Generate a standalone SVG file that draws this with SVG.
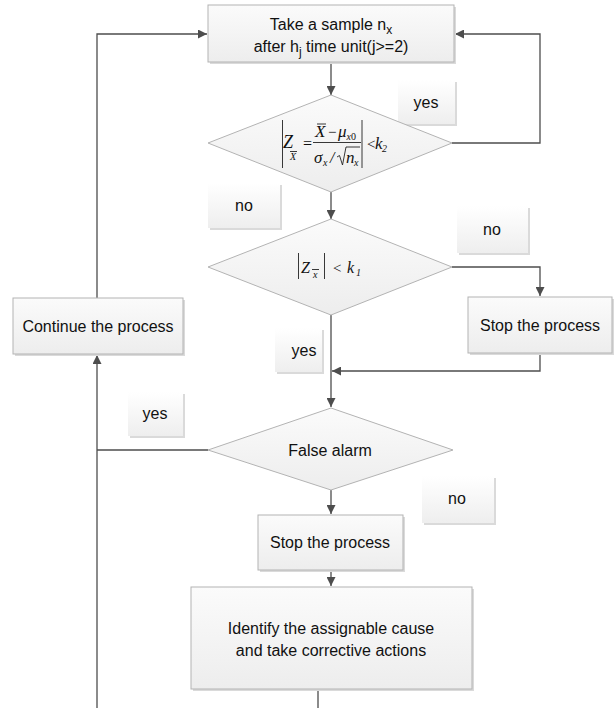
<svg xmlns="http://www.w3.org/2000/svg" width="615" height="708" viewBox="0 0 615 708">
<style>
.node{fill:url(#ng);stroke:#b3b3b3;stroke-width:1}
.shadow{fill:#dadada}
.lbl{fill:url(#lg)}
.t{font-family:"Liberation Sans",Arial,sans-serif;font-size:16px;fill:#111;text-anchor:middle}
.m{font-family:"Liberation Serif","Times New Roman",serif;font-style:italic;fill:#111}
.c{fill:none;stroke:#4d4d4d;stroke-width:1.3}
.mb{stroke:#222;stroke-width:0.9;fill:none}
</style>
<defs>
<linearGradient id="ng" x1="0" y1="0" x2="0" y2="1">
<stop offset="0" stop-color="#fbfbfb"/><stop offset="1" stop-color="#ededed"/>
</linearGradient>
<linearGradient id="lg" x1="0" y1="0" x2="0" y2="1">
<stop offset="0" stop-color="#ffffff"/><stop offset="1" stop-color="#eeeeee"/>
</linearGradient>
<marker id="ar" viewBox="0 0 10 10" refX="10" refY="5" markerWidth="9" markerHeight="9" markerUnits="userSpaceOnUse" orient="auto">
<path d="M0,0 L10,5 L0,10 z" fill="#4d4d4d"/>
</marker>
</defs>
<rect width="615" height="708" fill="#fff"/>

<g id="connectors">
<path class="c" d="M331,62 V95" marker-end="url(#ar)"/>
<path class="c" d="M452,143 H540 V34 H455" marker-end="url(#ar)"/>
<path class="c" d="M331,192 V219" marker-end="url(#ar)"/>
<path class="c" d="M452,267 H540 V296" marker-end="url(#ar)"/>
<path class="c" d="M540,353 V371 H332" marker-end="url(#ar)"/>
<path class="c" d="M331,315 V407" marker-end="url(#ar)"/>
<path class="c" d="M208,450 H97"/>
<path class="c" d="M97,708 V355" marker-end="url(#ar)"/>
<path class="c" d="M97,298 V34 H207" marker-end="url(#ar)"/>
<path class="c" d="M331,490 V514" marker-end="url(#ar)"/>
<path class="c" d="M331,570 V586" marker-end="url(#ar)"/>
<path class="c" d="M318,689 V708"/>
</g>

<g id="label-yes-1"><rect class="shadow" x="400" y="82" width="57" height="44"/><rect class="lbl" x="398" y="80" width="57" height="44"/><text class="t" x="426" y="108">yes</text></g>
<g id="label-no-1"><rect class="shadow" x="210" y="185" width="72" height="45"/><rect class="lbl" x="208" y="183" width="72" height="45"/><text class="t" x="244" y="211">no</text></g>
<g id="label-no-2"><rect class="shadow" x="459" y="208" width="71" height="47"/><rect class="lbl" x="457" y="206" width="71" height="47"/><text class="t" x="492" y="235">no</text></g>
<g id="label-yes-2"><rect class="shadow" x="277" y="330" width="47" height="44"/><rect class="lbl" x="275" y="328" width="47" height="44"/><text class="t" x="304" y="356">yes</text></g>
<g id="label-yes-3"><rect class="shadow" x="130" y="394" width="55" height="44"/><rect class="lbl" x="128" y="392" width="55" height="44"/><text class="t" x="155" y="419">yes</text></g>
<g id="label-no-3"><rect class="shadow" x="424" y="478" width="72" height="47"/><rect class="lbl" x="422" y="476" width="72" height="47"/><text class="t" x="457" y="504">no</text></g>

<g id="take-sample">
<rect class="shadow" x="210" y="7" width="246" height="57"/>
<rect class="node" x="208" y="5" width="246" height="57"/>
<text class="t" x="331" y="30">Take a sample n<tspan font-size="12" dy="4">x</tspan></text>
<text class="t" x="331" y="52">after h<tspan font-size="12" dy="4">j</tspan><tspan dy="-4"> time unit(j&gt;=2)</tspan></text>
</g>

<g id="decision-1">
<polygon class="node" points="331,95 452,143 331,192 208,143"/>
<line class="mb" x1="282.5" y1="120" x2="282.5" y2="168"/>
<text class="m" x="283" y="148" font-size="18">Z</text>
<text class="m" x="290" y="160" font-size="10">X</text>
<line class="mb" x1="290" y1="151.5" x2="297" y2="151.5" stroke-width="0.7"/>
<text class="m" x="302" y="149" font-size="16" font-style="normal">=</text>
<text class="m" x="315" y="137" font-size="17">X</text>
<line class="mb" x1="317" y1="124" x2="326" y2="124" stroke-width="0.8"/>
<text class="m" x="327" y="137" font-size="15" font-style="normal">−</text>
<text class="m" x="338" y="137" font-size="17">μ</text>
<text class="m" x="346.5" y="140" font-size="10">x<tspan font-style="normal">0</tspan></text>
<line class="mb" x1="313" y1="142.5" x2="361" y2="142.5"/>
<text class="m" x="314" y="163" font-size="17">σ</text>
<text class="m" x="323" y="166" font-size="10">x</text>
<text class="m" x="330" y="163" font-size="16" font-style="normal">/</text>
<path class="mb" d="M337,157 L339.5,155.5 L342.5,165 L346,147 H360"/>
<text class="m" x="346" y="163" font-size="17">n</text>
<text class="m" x="354" y="166" font-size="10">x</text>
<line class="mb" x1="362" y1="120" x2="362" y2="168"/>
<text class="m" x="366" y="149" font-size="15" font-style="normal">&lt;</text>
<text class="m" x="375" y="149" font-size="17">k</text>
<text class="m" x="382" y="152" font-size="10" font-style="normal">2</text>
</g>

<g id="decision-2">
<polygon class="node" points="331,219 452,267 331,315 208,267"/>
<line class="mb" x1="298.5" y1="253" x2="298.5" y2="279"/>
<text class="m" x="301" y="273" font-size="16">Z</text>
<text class="m" x="313" y="278" font-size="10">x</text>
<line class="mb" x1="312" y1="269.5" x2="319" y2="269.5" stroke-width="0.7"/>
<line class="mb" x1="324.5" y1="253" x2="324.5" y2="279"/>
<text class="m" x="332" y="273" font-size="15" font-style="normal">&lt;</text>
<text class="m" x="347" y="273" font-size="16">k</text>
<text class="m" x="356" y="276" font-size="10" font-style="normal">1</text>
</g>

<g id="stop-1">
<rect class="shadow" x="470" y="299" width="144" height="56"/>
<rect class="node" x="468" y="297" width="144" height="56"/>
<text class="t" x="540" y="331">Stop the process</text>
</g>

<g id="continue">
<rect class="shadow" x="15" y="300" width="170" height="56"/>
<rect class="node" x="13" y="298" width="170" height="56"/>
<text class="t" x="98" y="332">Continue the process</text>
</g>

<g id="false-alarm">
<polygon class="node" points="331,408 453,450 331,490 208,450"/>
<text class="t" x="330" y="456">False alarm</text>
</g>

<g id="stop-2">
<rect class="shadow" x="260" y="517" width="145" height="55"/>
<rect class="node" x="258" y="515" width="145" height="55"/>
<text class="t" x="330" y="548">Stop the process</text>
</g>

<g id="identify">
<rect class="shadow" x="193" y="589" width="281" height="102"/>
<rect class="node" x="191" y="587" width="281" height="102"/>
<text class="t" x="331" y="634">Identify the assignable cause</text>
<text class="t" x="331" y="656">and take corrective actions</text>
</g>
</svg>
